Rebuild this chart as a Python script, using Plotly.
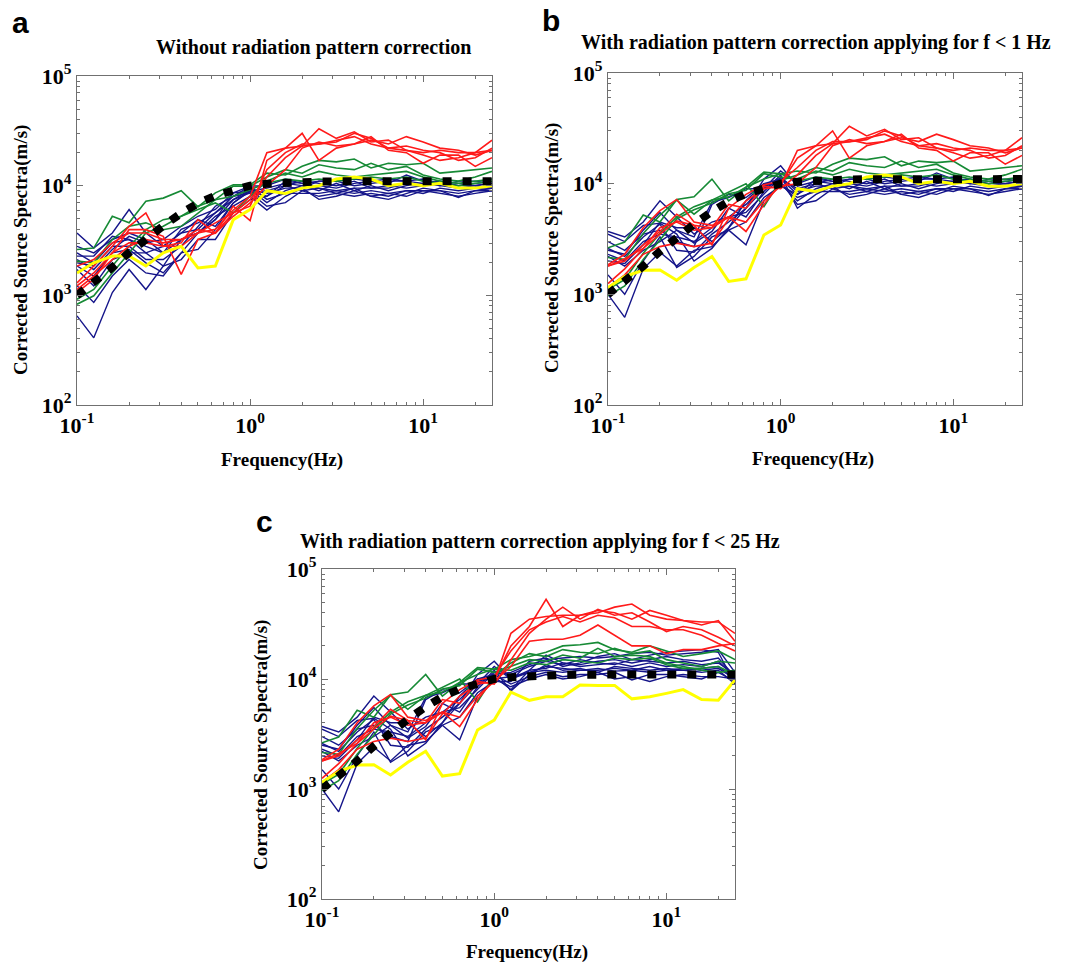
import plotly.graph_objects as go

W, H = 1081, 964

# third-octave band centre frequencies (Hz)
FREQ_LOW = [0.1, 0.125, 0.16, 0.2, 0.25, 0.315, 0.4, 0.5, 0.63, 0.8, 1.0]
FREQ_HIGH = [1.25, 1.6, 2.0, 2.5, 3.15, 4.0, 5.0, 6.3, 8.0, 10.0, 12.5, 16.0, 20.0, 25.0]

# model spectrum (black dashed)
MODEL = [1000, 1300, 1800, 2450, 3300, 4300, 5600, 6900, 8100, 9200, 10000,
         10400, 10700, 10800, 10900, 10950, 11000, 11000, 11000, 11000, 11000, 11000, 11000, 11000, 11000]

# ---------- red stations ----------
RED_LOW_RAW = [
    [1850, 2120, 3010, 3700, 3700, 3230, 3230, 3700, 4000, 6000, 8000],
    [1300, 1850, 2800, 4260, 5650, 2800, 3010, 4900, 3700, 6500, 4800],
    [1220, 1600, 2440, 3970, 3970, 3450, 1550, 3230, 3700, 5650, 7450],
    [1130, 1500, 2120, 2800, 3230, 3010, 3230, 3970, 3700, 5260, 6960],
    [1060, 1400, 2440, 3010, 3010, 2800, 2800, 3700, 4580, 5650, 6500],
]
RED_LOW_COR = [
    [1850, 2300, 4000, 5700, 7200, 4500, 4200, 5000, 4500, 7000, 9500],
    [1800, 2100, 2600, 3500, 4600, 4200, 4000, 5000, 3700, 6500, 10000],
    [1250, 1700, 2600, 4000, 4500, 3800, 4000, 6500, 6000, 9500, 9000],
    [1150, 1500, 2300, 2700, 2900, 2700, 2900, 4800, 7000, 9000, 9500],
    [1800, 2000, 2800, 3700, 5300, 4200, 2800, 6000, 8000, 9800, 10500],
]
RED_HIGH_RAW = [
    [20000, 22000, 23000, 24000, 25000, 30000, 27000, 22000, 21000, 20000, 21000, 20000, 20000, 26000],
    [17000, 22000, 30000, 17000, 22000, 24000, 26000, 24000, 28000, 25000, 22000, 21000, 19000, 21000],
    [12000, 18000, 23000, 33000, 27000, 31000, 25000, 26000, 21000, 19000, 17000, 18000, 20000, 21000],
    [10000, 14000, 22000, 25000, 23000, 24000, 28000, 21000, 20000, 16000, 19000, 19000, 15000, 18000],
    [14000, 20000, 24000, 24000, 26000, 28000, 24000, 22000, 23000, 21000, 20000, 17000, 18000, 22000],
]
RED_HIGH_COR = [
    [26000, 35000, 37000, 38000, 38000, 42000, 40000, 35000, 42000, 38000, 34000, 33000, 33000, 26000],
    [20000, 30000, 53000, 30000, 38000, 40000, 45000, 48000, 38000, 35000, 34000, 31000, 34000, 22000],
    [15000, 26000, 35000, 45000, 35000, 43000, 38000, 40000, 33000, 27000, 30000, 28000, 24000, 20000],
    [13000, 22000, 23000, 23000, 25000, 31000, 25000, 20000, 20000, 17000, 18500, 18500, 20000, 21000],
    [18000, 28000, 33000, 37000, 33000, 38000, 36000, 30000, 30000, 28000, 28000, 25000, 21000, 18000],
]

# ---------- green stations ----------
GREEN_LOW_RAW = [
    [2620, 2700, 5260, 4580, 7200, 7700, 9000, 6400, 8600, 10200, 10200],
    [2050, 1980, 3230, 4260, 4580, 3970, 4260, 5650, 7450, 9900, 9900],
    [830, 990, 1600, 2440, 3700, 4260, 5260, 6060, 6960, 5650, 8000],
    [920, 1130, 1850, 2800, 3970, 4900, 5260, 6500, 7450, 8000, 9200],
]
GREEN_LOW_COR = [
    [2630, 2970, 5200, 4500, 7200, 7600, 11000, 7000, 9300, 12700, 12300],
    [2150, 2070, 3550, 5200, 7100, 5300, 7100, 8400, 10000, 6200, 10700],
    [970, 1190, 2070, 3100, 4800, 5800, 6700, 8100, 8700, 12300, 11500],
    [1110, 1360, 2350, 3550, 5000, 6200, 7100, 7600, 9300, 11000, 12300],
]
GREEN_HIGH_RAW = [
    [13000, 12500, 15000, 17000, 16500, 17500, 14500, 16000, 15500, 16000, 13000, 13500, 14000, 14500],
    [12000, 14000, 13000, 15500, 14500, 14000, 16000, 14000, 15000, 12500, 11500, 11000, 12000, 13500],
    [11000, 13000, 12000, 13500, 12500, 12000, 12500, 13000, 13500, 12000, 11000, 10500, 11000, 11500],
    [10500, 11500, 11000, 11500, 11000, 11500, 12000, 11500, 12000, 11000, 10500, 10000, 10500, 11000],
]
GREEN_HIGH_COR = [
    [15000, 16000, 17500, 20000, 20500, 21500, 18500, 17500, 20000, 18000, 16000, 17000, 18000, 15000],
    [14000, 17000, 16000, 18500, 17500, 17000, 19000, 17000, 18000, 15000, 14000, 13000, 14500, 14000],
    [13000, 15000, 14500, 16500, 15500, 19000, 16000, 16500, 16000, 14000, 13000, 12000, 11500, 12000],
    [12000, 14000, 13500, 15000, 14500, 14000, 15500, 15000, 15500, 13500, 12500, 12500, 13000, 11000],
]

# ---------- blue stations ----------
BLUE_LOW_RAW = [
    [3700, 2700, 3700, 6060, 3700, 2800, 3700, 4000, 5650, 8000, 8600],
    [650, 410, 1060, 1720, 1130, 1850, 2120, 3230, 3230, 5650, 7450],
    [1220, 860, 1500, 2120, 1600, 1500, 2440, 2620, 3970, 6960, 9200],
    [2280, 2280, 3450, 3230, 2440, 1850, 3230, 3700, 4900, 7450, 8600],
    [2800, 2440, 3230, 3700, 3230, 2440, 4000, 4580, 5650, 7450, 9200],
    [1980, 1850, 2800, 2800, 2120, 2120, 2800, 4260, 6500, 8000, 9900],
    [1850, 1500, 2440, 2620, 1980, 1600, 2440, 3700, 4900, 8600, 8900],
    [2440, 1980, 3010, 3230, 2800, 2440, 3230, 3700, 5260, 6500, 8000],
    [1720, 1220, 2120, 2440, 2440, 2800, 3700, 4900, 4260, 6960, 8900],
    [2120, 1720, 2620, 3450, 3010, 3230, 4260, 5260, 6060, 8600, 9900],
]
BLUE_LOW_COR = [
    [3700, 3300, 4500, 7000, 5000, 3500, 4500, 5000, 6500, 9500, 10500],
    [1000, 620, 1700, 2400, 1800, 2500, 2700, 3800, 4500, 7500, 9500],
    [1500, 1000, 2000, 3300, 1750, 2200, 3300, 3800, 2800, 7000, 10000],
    [3500, 3000, 4200, 4400, 3500, 2000, 2600, 4000, 6000, 9000, 11000],
    [2300, 2000, 3000, 3500, 3300, 3000, 4000, 5000, 5500, 8000, 11500],
    [2000, 1900, 2800, 4500, 4000, 4000, 3000, 4000, 7000, 10000, 10000],
    [2600, 2200, 3300, 4300, 2500, 2400, 3500, 4500, 6000, 11000, 14500],
    [2500, 2300, 3800, 5500, 3800, 2900, 3700, 6000, 5000, 8500, 12000],
    [3000, 2500, 3500, 3800, 3000, 2700, 6500, 8000, 7500, 10000, 11000],
    [2200, 1800, 2500, 3000, 3800, 3300, 6800, 7500, 9000, 9000, 13000],
]
BLUE_HIGH_RAW = [
    [6500, 7000, 9000, 8000, 8500, 8000, 8500, 8000, 9000, 9000, 8500, 8000, 8500, 9000],
    [8000, 11000, 10500, 9500, 9000, 9500, 8000, 7500, 8500, 9500, 9000, 8500, 9000, 9500],
    [7000, 9000, 10000, 9000, 10500, 9000, 10000, 9000, 10000, 10500, 10000, 9500, 10000, 10500],
    [9000, 10000, 11000, 10500, 10000, 11000, 9500, 10000, 9500, 10000, 11000, 10500, 10000, 9500],
    [8500, 9500, 9500, 11000, 11000, 10000, 10500, 11000, 11000, 11500, 10500, 10000, 10500, 10000],
    [7500, 8500, 8500, 8500, 9000, 8500, 9000, 8500, 9000, 8500, 9500, 9000, 9500, 9500],
    [9500, 10500, 10000, 10000, 9500, 10500, 11000, 10500, 12500, 11000, 10000, 11000, 11000, 10500],
    [6000, 8000, 9500, 7500, 8000, 9000, 8000, 8500, 8000, 9000, 9000, 7800, 9000, 9000],
    [8000, 10000, 9000, 9500, 8500, 9500, 9500, 9500, 10500, 10000, 10500, 9500, 9500, 9000],
    [10000, 11500, 10500, 11000, 11000, 11500, 11000, 11500, 11000, 10500, 11000, 10000, 10000, 10500],
]
BLUE_HIGH_COR = [
    [8000, 12000, 16500, 14000, 13500, 14500, 15000, 14000, 15000, 16000, 15000, 14500, 15500, 10500],
    [9500, 14500, 15500, 13000, 14000, 16000, 17000, 15000, 16500, 17500, 18000, 18500, 17500, 9000],
    [10500, 11500, 13000, 12500, 12000, 12000, 12500, 12000, 11500, 12000, 12500, 12000, 12500, 10000],
    [9000, 10500, 11500, 10500, 11000, 11000, 11500, 9800, 11000, 11000, 10500, 10000, 11500, 9500],
    [11000, 13000, 14500, 13500, 15000, 14000, 13500, 15000, 14500, 14000, 14500, 13500, 14000, 11000],
    [8500, 10000, 11000, 10000, 10500, 11500, 10000, 10500, 9500, 10500, 11000, 10500, 10500, 10000],
    [10000, 12000, 12500, 14000, 13000, 13500, 14000, 13000, 14000, 13000, 13500, 13000, 14500, 10500],
    [7800, 11000, 13500, 12000, 12500, 11500, 13000, 12500, 12000, 12500, 12000, 11500, 12000, 9000],
    [11500, 13500, 15000, 15500, 16000, 15500, 16000, 17000, 17500, 16500, 17000, 17500, 18500, 11500],
    [10000, 11500, 12000, 11500, 12000, 12500, 11800, 12000, 13000, 12000, 12000, 12500, 13000, 10000],
]

# ---------- yellow station ----------
YELLOW_LOW_RAW = [1600, 1980, 2280, 2280, 1850, 2440, 2800, 1780, 1850, 4900, 6060]
YELLOW_LOW_COR = [1150, 1450, 1650, 1660, 1340, 1750, 2200, 1310, 1380, 3440, 4230]
YELLOW_HIGH_RAW = [9000, 8500, 9500, 10000, 11500, 12000, 11500, 10000, 10500, 10000, 10500, 9500, 9500, 10000]
YELLOW_HIGH_COR = [7600, 6400, 6900, 6900, 8800, 8750, 8750, 6600, 6900, 7400, 8000, 6500, 6400, 9800]

TITLES = ["Without radiation pattern correction",
          "With radiation pattern correction applying for f < 1 Hz",
          "With radiation pattern correction applying for f < 25 Hz"]
LETTERS = ["a", "b", "c"]
YTICK_VALS = [100, 1000, 10000, 100000]
YTICK_TEXT = ["<b>10<sup>2</sup></b>", "<b>10<sup>3</sup></b>", "<b>10<sup>4</sup></b>", "<b>10<sup>5</sup></b>"]
XTICK_VALS = [0.1, 1, 10]
XTICK_TEXT = ["<b>10<sup>-1</sup></b>", "<b>10<sup>0</sup></b>", "<b>10<sup>1</sup></b>"]

COL_RED = "#ff1a1a"
COL_GREEN = "#168a35"
COL_BLUE = "#15158a"
COL_YELLOW = "#ffff00"
AXCOL = "#707070"

SERIF = "Liberation Serif"
FREQ_ALL = FREQ_LOW + FREQ_HIGH

# plot boxes in pixels: (left, right, top, bottom)
BOXES = [(77, 492, 76, 405), (608, 1022, 73, 405), (322, 735, 569, 899)]

fig = go.Figure()

# which low / high data each panel uses: 0 -> raw, 1 -> corrected
PANEL_SRC = [(0, 0), (1, 0), (1, 1)]
groups = [
    (COL_BLUE, 1.4, BLUE_LOW_RAW, BLUE_LOW_COR, BLUE_HIGH_RAW, BLUE_HIGH_COR),
    (COL_GREEN, 1.6, GREEN_LOW_RAW, GREEN_LOW_COR, GREEN_HIGH_RAW, GREEN_HIGH_COR),
    (COL_RED, 1.6, RED_LOW_RAW, RED_LOW_COR, RED_HIGH_RAW, RED_HIGH_COR),
    (COL_YELLOW, 3.0, [YELLOW_LOW_RAW], [YELLOW_LOW_COR], [YELLOW_HIGH_RAW], [YELLOW_HIGH_COR]),
]

for p in range(3):
    xa = "x" if p == 0 else f"x{p+1}"
    ya = "y" if p == 0 else f"y{p+1}"
    lo_src, hi_src = PANEL_SRC[p]
    for col, lw, lraw, lcor, hraw, hcor in groups:
        lows = lraw if lo_src == 0 else lcor
        highs = hraw if hi_src == 0 else hcor
        for lo, hi in zip(lows, highs):
            fig.add_trace(go.Scatter(x=FREQ_ALL, y=lo + hi, mode="lines",
                                     line=dict(color=col, width=lw),
                                     xaxis=xa, yaxis=ya, showlegend=False, hoverinfo="skip"))
    fig.add_trace(go.Scatter(x=FREQ_ALL, y=MODEL, mode="lines",
                             line=dict(color="black", width=8, dash="9px,11px"),
                             xaxis=xa, yaxis=ya, showlegend=False, hoverinfo="skip"))

def minor_vals(lo_exp, hi_exp, maxv):
    vals = []
    for e in range(lo_exp, hi_exp):
        for m in range(2, 10):
            v = m * 10 ** e
            if v <= maxv:
                vals.append(v)
    return vals

layout = dict(width=W, height=H, margin=dict(l=0, r=0, t=0, b=0, autoexpand=False),
              paper_bgcolor="white", plot_bgcolor="white", showlegend=False)
annotations = []
for p, (l, r, t, b) in enumerate(BOXES):
    sx = "" if p == 0 else str(p + 1)
    axis_common = dict(type="log", showgrid=False, zeroline=False, showline=True,
                       automargin=False,
                       linecolor=AXCOL, linewidth=1.3, mirror="allticks",
                       ticks="inside", ticklen=6, tickcolor=AXCOL,
                       tickfont=dict(family=SERIF, size=22, color="black"))
    layout["xaxis" + sx] = dict(axis_common, domain=[l / W, r / W],
                                range=[-1, 1.39794], anchor="y" + sx,
                                tickmode="array", tickvals=XTICK_VALS, ticktext=XTICK_TEXT,
                                minor=dict(tickmode="array", tickvals=minor_vals(-1, 2, 25),
                                           ticks="inside", ticklen=3, tickcolor=AXCOL))
    layout["yaxis" + sx] = dict(axis_common, domain=[1 - b / H, 1 - t / H],
                                range=[2, 5], anchor="x" + sx,
                                tickmode="array", tickvals=YTICK_VALS, ticktext=YTICK_TEXT,
                                minor=dict(tickmode="array", tickvals=minor_vals(2, 5, 1e5),
                                           ticks="inside", ticklen=3, tickcolor=AXCOL))

# titles, letters, axis titles
TITLE_POS = [(313, 47), (816, 43), (540, 541)]
LETTER_POS = [(20, 22), (551, 20), (264, 521)]
YLAB_POS = [(21, 250), (552, 248), (261, 745)]
XLAB_POS = [(282, 460), (813, 459), (527, 952)]
for p in range(3):
    tx, ty = TITLE_POS[p]
    annotations.append(dict(text="<b>" + TITLES[p] + "</b>", x=tx / W, y=1 - ty / H,
                            xref="paper", yref="paper", showarrow=False,
                            xanchor="center", yanchor="middle",
                            font=dict(family=SERIF, size=20, color="black")))
    lx, ly = LETTER_POS[p]
    annotations.append(dict(text="<b>" + LETTERS[p] + "</b>", x=lx / W, y=1 - ly / H,
                            xref="paper", yref="paper", showarrow=False,
                            xanchor="center", yanchor="middle",
                            font=dict(family="Liberation Sans", size=30, color="black")))
    yx, yy = YLAB_POS[p]
    annotations.append(dict(text="<b>Corrected Source Spectra(m/s)</b>", x=yx / W, y=1 - yy / H,
                            xref="paper", yref="paper", showarrow=False, textangle=-90,
                            xanchor="center", yanchor="middle",
                            font=dict(family=SERIF, size=19, color="black")))
    xx, xy = XLAB_POS[p]
    annotations.append(dict(text="<b>Frequency(Hz)</b>", x=xx / W, y=1 - xy / H,
                            xref="paper", yref="paper", showarrow=False,
                            xanchor="center", yanchor="middle",
                            font=dict(family=SERIF, size=19, color="black")))
layout["annotations"] = annotations
fig.update_layout(**layout)

fig.write_html("out.html", config=dict(displayModeBar=False),
               post_script="document.body.style.margin='0';document.body.style.overflow='hidden';")
